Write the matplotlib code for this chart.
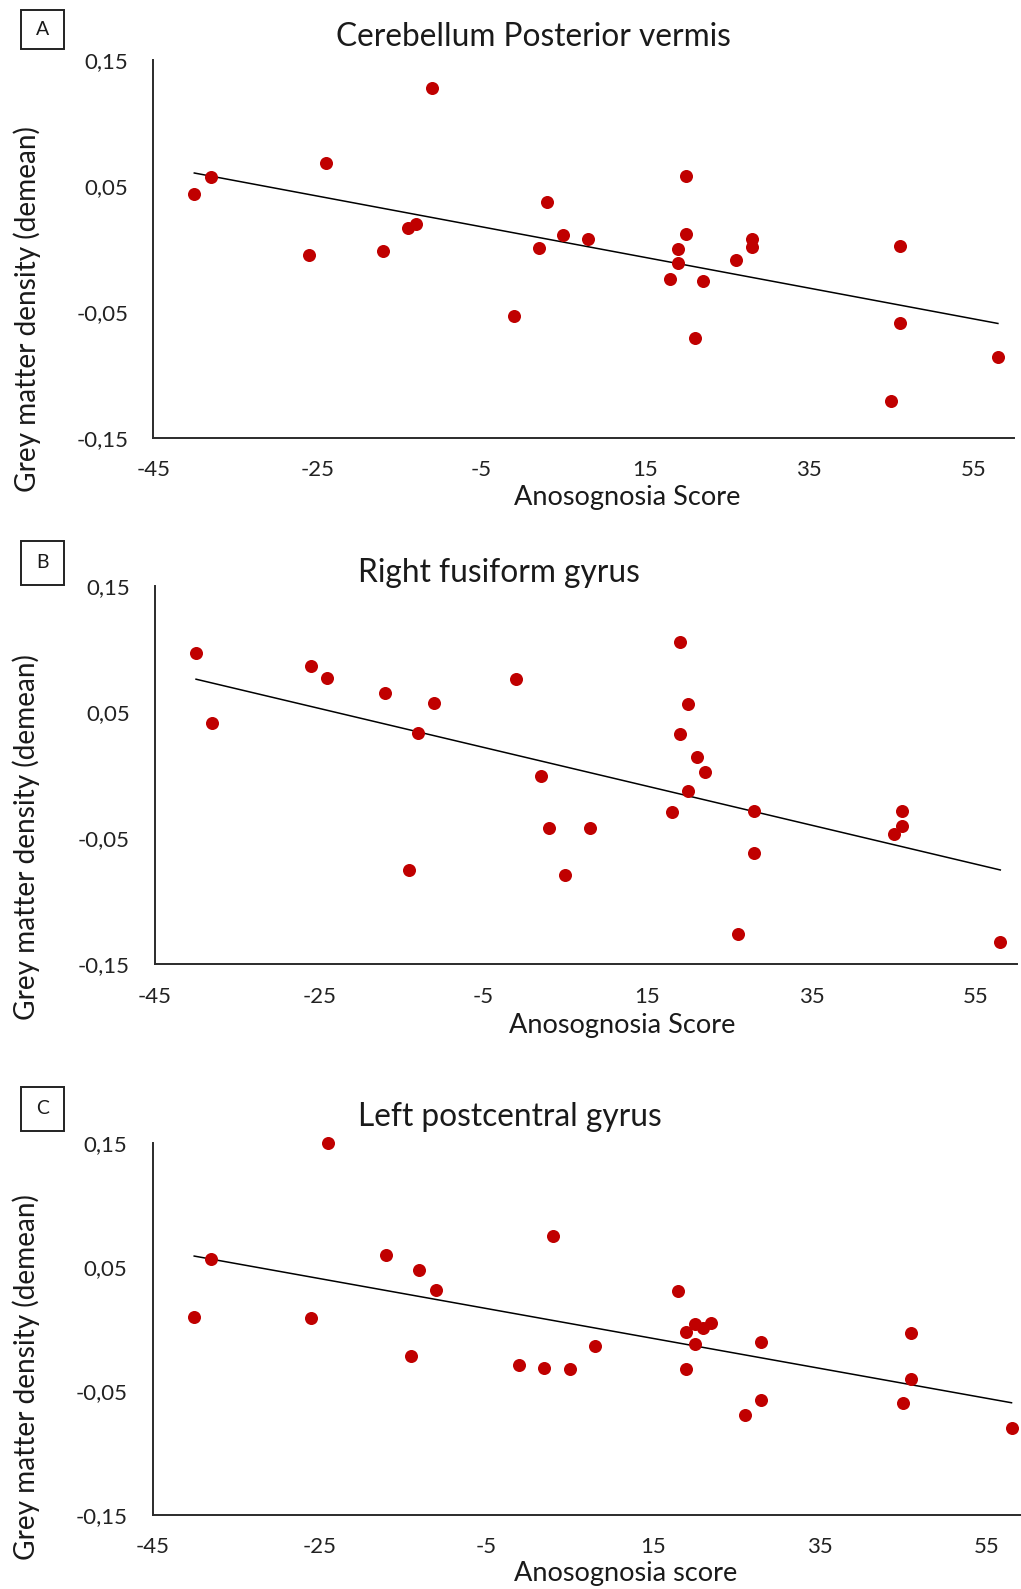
import numpy as np
import matplotlib
matplotlib.use("Agg")
import matplotlib.pyplot as plt
from matplotlib.patches import Rectangle
from matplotlib.ticker import FixedLocator, FuncFormatter

plt.rcParams['font.family'] = ['Lato', 'DejaVu Sans']

# ---------------- data ----------------
# Anosognosia score (same patients in all panels)
score_a = [-40, -38, -24, -26, -17, -14, -13, -11, -1, 2, 3, 5, 8, 20, 20, 19, 19, 18,
           22, 21, 26, 28, 28, 46, 46, 45, 58]
gm_a = [0.0436, 0.0568, 0.0682, -0.0051, -0.0017, 0.0168, 0.0197, 0.128, -0.0533, 0.001,
        0.037, 0.0107, 0.008, 0.0576, 0.012, 0.000, -0.0115, -0.0237, -0.0255, -0.0708,
        -0.0091, 0.0076, 0.0017, 0.0023, -0.0591, -0.1208, -0.0857]

score_b = [-40, -38, -26, -24, -17, -13, -11, -14, -1, 2, 3, 5, 8, 19, 20, 19, 21, 22,
           20, 18, 28, 28, 26, 46, 46, 45, 58]
gm_b = [0.0966, 0.0416, 0.0868, 0.077, 0.0649, 0.0337, 0.0575, -0.075, 0.076, -0.0009,
        -0.0422, -0.079, -0.0422, 0.1056, 0.0564, 0.0326, 0.0144, 0.0023, -0.0123, -0.029,
        -0.0282, -0.0617, -0.126, -0.0282, -0.0403, -0.0464, -0.1326]

score_c = [-24, -40, -38, -26, -17, -13, -11, -14, -1, 2, 3, 5, 8, 18, 19, 19, 20, 20,
           21, 22, 28, 28, 26, 46, 46, 45, 58]
gm_c = [0.150, 0.0096, 0.0564, 0.0088, 0.0599, 0.048, 0.0314, -0.0214, -0.029, -0.0311,
        0.075, -0.0322, -0.0138, 0.0305, -0.0023, -0.0322, 0.0042, -0.012, 0.0012, 0.0047,
        -0.0104, -0.0574, -0.069, -0.0031, -0.0405, -0.0596, -0.0798]

titles = ["Cerebellum Posterior vermis", "Right fusiform gyrus", "Left postcentral gyrus"]
panel_letters = ["A", "B", "C"]
xlabels = ["Anosognosia Score", "Anosognosia Score", "Anosognosia score"]
ylabel = "Grey matter density (demean)"
xticks = [-45, -25, -5, 15, 35, 55]
yticks = [-0.15, -0.05, 0.05, 0.15]

# ---------------- layout (pixels) ----------------
W, H = 1021, 1589
def fx(px):
    return px / W
def fy(py):
    return 1 - py / H

fig = plt.figure(figsize=(W / 100, H / 100), dpi=100)
fig.patch.set_facecolor("white")

# (left, top, right, bottom) in pixels
rects = [(153.3, 60, 1014.3, 437.7),
         (155, 586, 1016.7, 964.3),
         (152.5, 1143.3, 1028.2, 1515)]
title_pos = [(533, 36.7), (499, 573.3), (510, 1116.7)]
xlabel_pos = [(627, 497), (622, 1025), (626, 1574)]
ylabel_pos = [(27, 309), (26, 836.7), (26, 1376.7)]
letter_box = [(20.7, 10, 43, 39), (20.7, 541, 43, 44), (20.7, 1086.7, 43, 44)]

red = "#C00000"
datasets = [(score_a, gm_a), (score_b, gm_b), (score_c, gm_c)]

for i, (xs, ys) in enumerate(datasets):
    l, t, r, b = rects[i]
    ax = fig.add_axes([fx(l), fy(b), (r - l) / W, (b - t) / H])
    xs = np.array(xs, dtype=float)
    ys = np.array(ys, dtype=float)
    ax.scatter(xs, ys, s=88, color=red, zorder=3, clip_on=False, linewidths=0)
    k, c0 = np.polyfit(xs, ys, 1)
    xl = np.array([xs.min(), xs.max()])
    ax.plot(xl, k * xl + c0, color="black", lw=1.1, zorder=2)

    ax.set_xlim(-45, 60)
    ax.set_ylim(-0.15, 0.15)
    ax.xaxis.set_major_locator(FixedLocator(xticks))
    ax.yaxis.set_major_locator(FixedLocator(yticks))
    ax.yaxis.set_major_formatter(FuncFormatter(lambda v, p: f"{v:.2f}".replace(".", ",")))
    ax.xaxis.set_major_formatter(FuncFormatter(lambda v, p: f"{v:.0f}"))
    for s in ["top", "right"]:
        ax.spines[s].set_visible(False)
    for s in ["left", "bottom"]:
        ax.spines[s].set_color("#2b2b2b")
        ax.spines[s].set_linewidth(1.4)
    ax.tick_params(axis="both", length=0, labelsize=16, colors="#222222")
    ax.tick_params(axis="x", pad=16)
    ax.tick_params(axis="y", pad=18)
    ax.set_facecolor("none")

    fig.text(fx(title_pos[i][0]), fy(title_pos[i][1]), titles[i], ha="center", va="center",
             fontsize=22.8, color="#1a1a1a")
    fig.text(fx(xlabel_pos[i][0]), fy(xlabel_pos[i][1]), xlabels[i], ha="center", va="center",
             fontsize=19.5, color="#1a1a1a")
    fig.text(fx(ylabel_pos[i][0]), fy(ylabel_pos[i][1]), ylabel, ha="center", va="center",
             rotation=90, fontsize=20.2, color="#1a1a1a")

    bx, by, bw, bh = letter_box[i]
    fig.add_artist(Rectangle((fx(bx), fy(by + bh)), bw / W, bh / H, transform=fig.transFigure,
                             facecolor="white", edgecolor="#222222", lw=1.4))
    fig.text(fx(bx + bw / 2), fy(by + bh / 2), panel_letters[i], ha="center", va="center",
             fontsize=14, color="#1a1a1a")

fig.savefig("out.png", dpi=100)
